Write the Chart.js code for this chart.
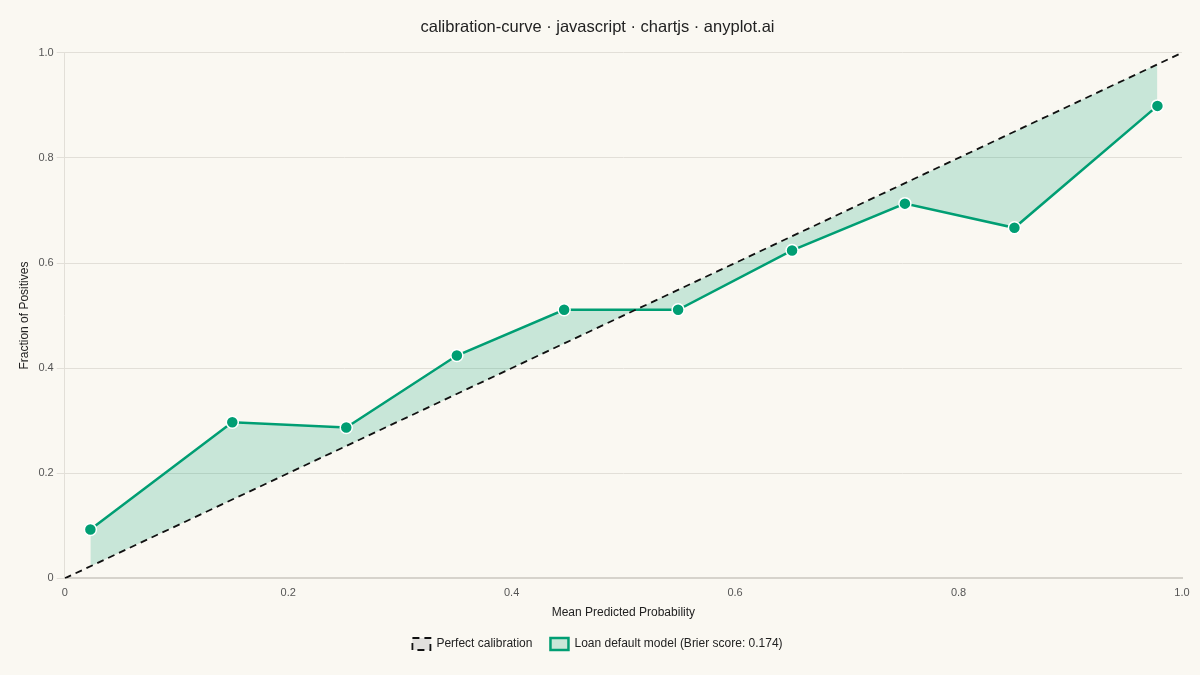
<!DOCTYPE html>
<html lang="en">
  <head>
    <meta charset="UTF-8" />
    <title>calibration-curve</title>
    <script src="https://cdn.jsdelivr.net/npm/chart.js"></script>
    <style>
      html, body { margin: 0; padding: 0; background: #faf8f2; }
      #wrap { width: 1200px; height: 675px; }
    </style>
  </head>
  <body>
    <div id="wrap"><canvas id="calChart"></canvas></div>
    <script>
      // mean predicted probability per bin, and observed fraction of positives
      const meanPredicted = [0.023, 0.150, 0.252, 0.351, 0.447, 0.549, 0.651, 0.752, 0.850, 0.978];
      const fractionPositives = [0.093, 0.297, 0.287, 0.424, 0.511, 0.511, 0.624, 0.713, 0.667, 0.899];
      const diagonalX = [0, 1];
      const brierScore = 0.174;

      const green = "#009e73";
      const fillGreen = "rgba(0, 158, 115, 0.2)";

      const fmt = (v) => (v === 0 ? "0" : v.toFixed(1));

      const ctx = document.getElementById("calChart").getContext("2d");
      new Chart(ctx, {
        type: "line",
        data: {
          datasets: [
            {
              label: "Perfect calibration",
              data: diagonalX.map((x) => ({ x: x, y: x })),
              borderColor: "#111111",
              borderWidth: 1.8,
              borderDash: [7, 5],
              backgroundColor: "rgba(200,200,200,0.5)",
              pointRadius: 0,
              fill: false,
              order: 1,
            },
            {
              // diagonal sampled at bin positions, used as fill target only
              label: "_ref",
              data: meanPredicted.map((x) => ({ x: x, y: x })),
              borderWidth: 0,
              borderColor: "transparent",
              pointRadius: 0,
              fill: false,
              order: 3,
            },
            {
              label: `Loan default model (Brier score: ${brierScore})`,
              data: meanPredicted.map((x, i) => ({ x: x, y: fractionPositives[i] })),
              borderColor: green,
              borderWidth: 2.5,
              backgroundColor: fillGreen,
              pointBackgroundColor: green,
              pointBorderColor: "#ffffff",
              pointBorderWidth: 1.5,
              pointRadius: 6,
              fill: "-1",
              order: 2,
            },
          ],
        },
        options: {
          responsive: true,
          maintainAspectRatio: false,
          animation: false,
          layout: { padding: { left: 13, right: 18, top: 8, bottom: 15 } },
          plugins: {
            title: {
              display: true,
              text: "calibration-curve · javascript · chartjs · anyplot.ai",
              color: "#222222",
              font: { family: "Liberation Sans", size: 16.5, weight: "normal" },
              padding: { top: 10, bottom: 15 },
            },
            legend: {
              position: "bottom",
              labels: {
                filter: (item) => item.text !== "_ref",
                color: "#222222",
                font: { family: "Liberation Sans", size: 12 },
                boxWidth: 18,
                boxHeight: 12,
                padding: 18,
              },
            },
            tooltip: { enabled: false },
          },
          scales: {
            x: {
              type: "linear",
              min: 0,
              max: 1,
              ticks: {
                stepSize: 0.2,
                callback: fmt,
                color: "#555555",
                padding: 0,
                font: { family: "Liberation Sans", size: 11 },
              },
              grid: { display: false },
              border: { color: "#d6d3cc", width: 2 },
              title: {
                display: true,
                text: "Mean Predicted Probability",
                color: "#222222",
                padding: { top: 6, bottom: 0 },
                font: { family: "Liberation Sans", size: 12 },
              },
            },
            y: {
              min: 0,
              max: 1,
              ticks: {
                stepSize: 0.2,
                callback: fmt,
                color: "#555555",
                font: { family: "Liberation Sans", size: 11 },
              },
              grid: { color: "#e2dfd8" },
              border: { color: "#e2dfd8" },
              title: {
                display: true,
                text: "Fraction of Positives",
                color: "#222222",
                font: { family: "Liberation Sans", size: 12 },
              },
            },
          },
        },
      });
    </script>
  </body>
</html>
